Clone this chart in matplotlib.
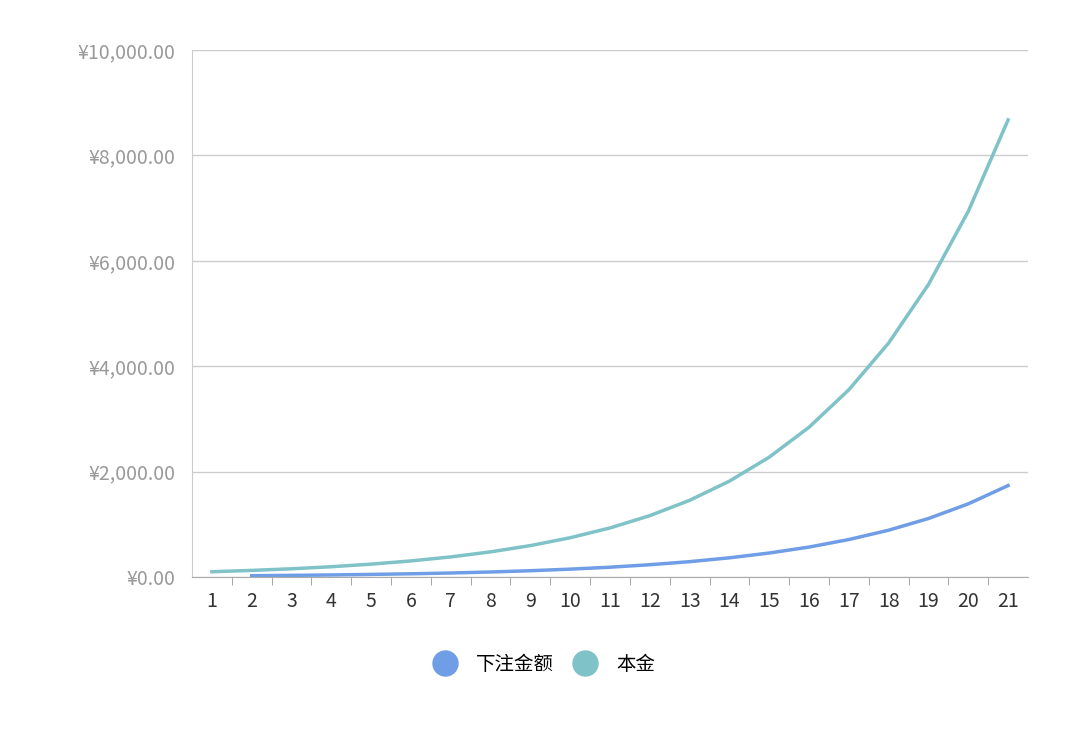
import matplotlib.pyplot as plt
from matplotlib.lines import Line2D

plt.rcParams['font.family'] = ['Noto Sans CJK SC', 'DejaVu Sans']

periods = list(range(1, 22))
principal = [100, 125, 156, 195, 244, 305, 381, 477, 596, 745, 931, 1164, 1455,
             1819, 2274, 2842, 3553, 4441, 5551, 6939, 8674]
bet_x = list(range(2, 22))
bet = [25, 31, 39, 49, 61, 76, 95, 119, 149, 186, 233, 291, 364, 455, 568,
       711, 888, 1110, 1388, 1735]
yticks = [0, 2000, 4000, 6000, 8000, 10000]

c_bet = "#6f9ee6"
c_prin = "#7fc2c7"

fig = plt.figure(figsize=(10.8, 7.43), dpi=100)
ax = fig.add_axes([192 / 1080, 1 - 577 / 743, 836 / 1080, 527 / 743])

ax.plot(bet_x, bet, color=c_bet, lw=2.5)
ax.plot(periods, principal, color=c_prin, lw=2.5)

ax.set_xlim(0.5, 21.5)
ax.set_ylim(0, 10000)
ax.set_yticks(yticks)
ax.set_yticklabels([f"¥{v:,.2f}" for v in yticks], fontsize=14, color="#999999")
ax.set_xticks(periods)
ax.set_xticklabels([str(p) for p in periods], fontsize=14, color="#333333")
ax.set_xticks([p + 0.5 for p in periods[:-1]], minor=True)
ax.tick_params(axis="x", which="major", length=0, pad=10)
ax.tick_params(axis="x", which="minor", length=6, color="#999999", direction="out")
ax.tick_params(axis="y", length=0, pad=12)
ax.grid(axis="y", color="#cccccc", lw=1)
for s in ["top", "right"]:
    ax.spines[s].set_visible(False)
ax.spines["left"].set_color("#cccccc")
ax.spines["bottom"].set_color("#aaaaaa")

handles = [Line2D([], [], marker="o", ls="", ms=18, color=c_bet, label="下注金额"),
           Line2D([], [], marker="o", ls="", ms=18, color=c_prin, label="本金")]
fig.legend(handles=handles, loc="center", bbox_to_anchor=(0.5, 1 - 664 / 743),
           ncol=2, frameon=False, fontsize=14, handletextpad=0.6, columnspacing=0.6)

fig.savefig("out.png", dpi=100)
